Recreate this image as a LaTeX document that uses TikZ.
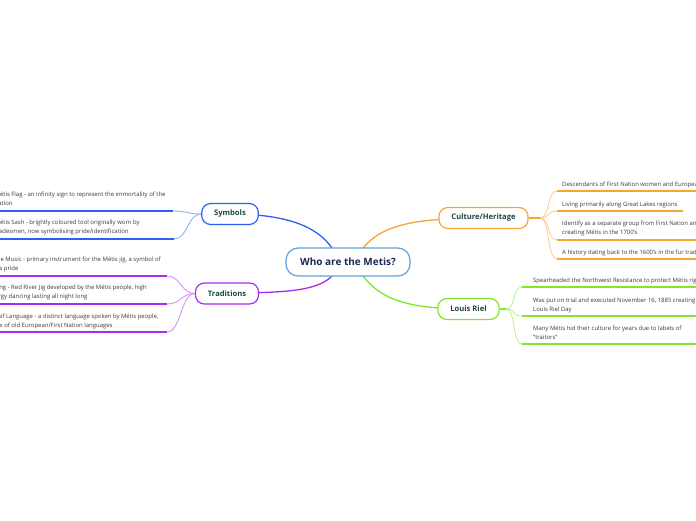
\documentclass[tikz,border=0pt]{standalone}
\usepackage{fontspec}
\setmainfont{Open Sans}
\definecolor{cblue}{HTML}{2F5FF2}
\definecolor{cpurple}{HTML}{A62CF0}
\definecolor{corange}{HTML}{F7A532}
\definecolor{cgreen}{HTML}{84E62A}
\definecolor{ccentral}{HTML}{5EA2DC}
\definecolor{ctopic}{HTML}{1B4A3C}
\definecolor{ccentertext}{HTML}{1C2A56}
\definecolor{cbody}{HTML}{3A3A3A}
\tikzset{
  central/.style={draw=ccentral, line width=1.2pt, rounded corners=12pt, fill=white,
    minimum width=124pt, minimum height=28pt, inner sep=0pt,
    font=\fontsize{10}{12}\selectfont\bfseries, text=ccentertext},
  topic/.style={draw=#1, line width=1.2pt, rounded corners=9pt, fill=white,
    minimum height=21pt, inner xsep=12.5pt, inner ysep=0pt,
    font=\fontsize{7.6}{9}\selectfont\bfseries, text=ctopic},
  item/.style={anchor=north west, inner sep=0pt, align=left,
    font=\fontsize{5.95}{8.8}\selectfont, text=cbody},
  mainline/.style={draw=#1, line width=1.3pt},
  subline/.style={draw=#1!55, line width=0.8pt},
  uline/.style={draw=#1, line width=2pt},
}
\begin{document}
\begin{tikzpicture}[x=1pt,y=-1pt]
\useasboundingbox (0,0) rectangle (696,520);
\fill[white] (0,0) rectangle (696,520);
\clip (0,0) rectangle (696,520);

% coordinates for connector ends
\coordinate (cSymA) at (173,211);
\coordinate (cSymB) at (174,239);
\coordinate (cTraA) at (167,276);
\coordinate (cTraB) at (167,304);
\coordinate (cTraC) at (167,332);
\coordinate (cCulH) at (540,218);
\coordinate (cCulA) at (557,191);
\coordinate (cCulB) at (557,211);
\coordinate (cCulC) at (557,240);
\coordinate (cCulD) at (557,259);
\coordinate (cLouH) at (506,309);
\coordinate (cLouA) at (522,287);
\coordinate (cLouB) at (522,316);
\coordinate (cLouC) at (522,344);
\coordinate (cCenNW) at (332,248);
\coordinate (cCenNE) at (363,248);
\coordinate (cCenSW) at (332,276);
\coordinate (cCenSE) at (363,276);

% main connectors
\draw[mainline=cblue] (cCenNW) .. controls (318,228) and (290,214) .. (230,214);
\draw[mainline=corange] (cCenNE) .. controls (380,228) and (405,218) .. (483,218);
\draw[mainline=cpurple] (cCenSW) .. controls (318,290) and (290,293) .. (227,293);
\draw[mainline=cgreen] (cCenSE) .. controls (380,298) and (405,309) .. (468,309);

% central node
\node[central] (center) at (348,262) {Who are the Metis?};

% topic nodes
\node[topic=cblue] (sym) at (230,214) {Symbols};
\node[topic=cpurple] (tra) at (227,293.5) {Traditions};
\node[topic=corange] (cul) at (483.5,218) {Culture/Heritage};
\node[topic=cgreen] (lou) at (468.5,309) {Louis Riel};

% Symbols items
\node[item] (flag) at (-5.5,192) {Métis Flag - an infinity sign to represent the immortality of the\\nation};
\node[item] (sash) at (-5.5,220) {Métis Sash - brightly coloured tool originally worn by\\tradesmen, now symbolising pride/identification};
\draw[uline=cblue] (-5,211) -- (cSymA);
\draw[uline=cblue] (-5,239) -- (cSymB);
\draw[subline=cblue] (sym.west) .. controls +(-14,0) and +(14,0) .. (cSymA);
\draw[subline=cblue] (sym.west) .. controls +(-14,0) and +(14,0) .. (cSymB);

% Traditions items
\node[item] (fiddle) at (-13,257) {Fiddle Music - primary instrument for the Métis jig, a symbol of\\Métis pride};
\node[item] (jig) at (-12,285) {Jigging - Red River Jig developed by the Métis people, high\\energy dancing lasting all night long};
\node[item] (michif) at (-12.5,313.5) {Michif Language - a distinct language spoken by Métis people,\\a mix of old European/First Nation languages};
\draw[uline=cpurple] (-5,276) -- (cTraA);
\draw[uline=cpurple] (-5,304) -- (cTraB);
\draw[uline=cpurple] (-5,332) -- (cTraC);
\draw[subline=cpurple] (tra.west) .. controls +(-14,0) and +(14,0) .. (cTraA);
\draw[subline=cpurple] (tra.west) .. controls +(-14,0) and +(14,0) .. (cTraB);
\draw[subline=cpurple] (tra.west) .. controls +(-14,0) and +(14,0) .. (cTraC);

% Culture items
\node[item] (desc) at (562,181.5) {Descendants of First Nation women and European men};
\node[item] (living) at (562,201.5) {Living primarily along Great Lakes regions};
\node[item] (ident) at (562,220.5) {Identify as a separate group from First Nation and European,\\creating Métis in the 1700's};
\node[item] (hist) at (562,249.5) {A history dating back to the 1600's in the fur trade};
\draw[uline=corange] (cCulA) -- (705,191);
\draw[uline=corange] (cCulB) -- (683,211);
\draw[uline=corange] (cCulC) -- (705,240);
\draw[uline=corange] (cCulD) -- (705,259);
\draw[mainline=corange] (cul.east) -- (cCulH);
\draw[subline=corange] (cCulH) .. controls +(10,0) and +(-10,0) .. (cCulA);
\draw[subline=corange] (cCulH) .. controls +(10,0) and +(-10,0) .. (cCulB);
\draw[subline=corange] (cCulH) .. controls +(10,0) and +(-10,0) .. (cCulC);
\draw[subline=corange] (cCulH) .. controls +(10,0) and +(-10,0) .. (cCulD);

% Louis Riel items
\node[item] (spear) at (533,277.5) {Spearheaded the Northwest Resistance to protect Métis rights};
\node[item] (trial) at (533,297.5) {Was put on trial and executed November 16, 1885 creating\\Louis Riel Day};
\node[item] (many) at (533,325.5) {Many Métis hid their culture for years due to labels of\\"traitors"};
\draw[uline=cgreen] (cLouA) -- (705,287);
\draw[uline=cgreen] (cLouB) -- (705,316);
\draw[uline=cgreen] (cLouC) -- (705,344);
\draw[mainline=cgreen] (lou.east) -- (cLouH);
\draw[subline=cgreen] (cLouH) .. controls +(10,0) and +(-10,0) .. (cLouA);
\draw[subline=cgreen] (cLouH) .. controls +(10,0) and +(-10,0) .. (cLouB);
\draw[subline=cgreen] (cLouH) .. controls +(10,0) and +(-10,0) .. (cLouC);
\end{tikzpicture}
\end{document}
